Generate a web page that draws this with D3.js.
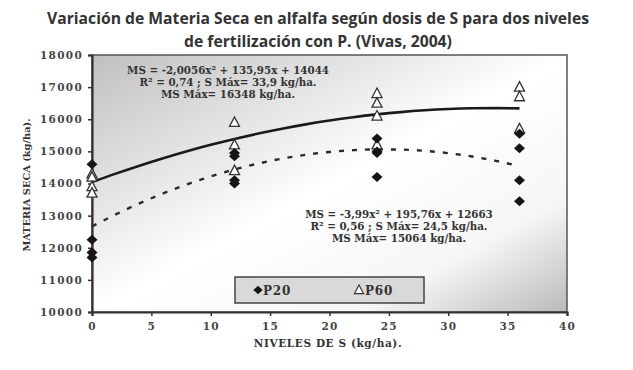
<!DOCTYPE html>
<html><head><meta charset="utf-8">
<script src="https://cdn.jsdelivr.net/npm/d3@7"></script>
<style>body{margin:0;background:#fff}svg{display:block}</style>
</head><body>
<svg id="c" width="633" height="370"></svg>
<script>
const titleLines = ["Variación de Materia Seca en alfalfa según dosis de S para dos niveles", "de fertilización con P. (Vivas, 2004)"];
const xTicks = [0,5,10,15,20,25,30,35,40];
const yTicks = [10000,11000,12000,13000,14000,15000,16000,17000,18000];
const p20X = [0,0,0,0,12,12,12,12,24,24,24,24,36,36,36,36];
const p20Y = [14600,12250,11850,11700,14950,14850,14100,14000,15400,15000,14950,14200,15550,15100,14100,13450];
const p60X = [0,0,0,0,12,12,12,24,24,24,24,36,36,36];
const p60Y = [14300,14200,13900,13700,15900,15200,14400,16800,16500,16100,15200,17000,16700,15700];
const p60Coef = [-2.0056, 135.95, 14044];
const p20Coef = [-3.99, 195.76, 12663];
const trendX = [0,2,4,6,8,10,12,14,16,18,20,22,24,26,28,30,32,34,36];
const eq60 = ["MS = -2,0056x² + 135,95x + 14044", "R² = 0,74 ; S Máx= 33,9 kg/ha.", "MS Máx= 16348 kg/ha."];
const eq20 = ["MS = -3,99x² + 195,76x + 12663", "R² = 0,56 ; S Máx= 24,5 kg/ha.", "MS Máx= 15064 kg/ha."];
const legendLabels = ["P20", "P60"];

const svg = d3.select("#c");
const L = 92, R = 567, T = 55, B = 312;
const x = d3.scaleLinear().domain([0,40]).range([L,R]);
const y = d3.scaleLinear().domain([10000,18000]).range([B,T]);
const serif = "'DejaVu Serif', serif";

// title
svg.append("g").selectAll("text").data(titleLines).join("text")
  .attr("x", 318).attr("y", (d,i)=>24+i*23)
  .attr("text-anchor","middle").attr("font-family","'Open Sans', sans-serif")
  .attr("font-weight","bold").attr("font-size",15.7).attr("fill","#333").text(d=>d);

// background gradient
const defs = svg.append("defs");
const g1 = defs.append("linearGradient").attr("id","bg").attr("x1","0").attr("y1","0").attr("x2","1").attr("y2","1");
g1.append("stop").attr("offset","0").attr("stop-color","#c0c0c0");
g1.append("stop").attr("offset","0.35").attr("stop-color","#ececec");
g1.append("stop").attr("offset","0.5").attr("stop-color","#ffffff");
g1.append("stop").attr("offset","0.78").attr("stop-color","#f6f6f6");
g1.append("stop").attr("offset","1").attr("stop-color","#bababa");
svg.append("rect").attr("x",L).attr("y",T).attr("width",R-L).attr("height",B-T)
  .attr("fill","url(#bg)").attr("stroke","#555").attr("stroke-width",1.5);

// axes
const yAxis = svg.append("g").attr("transform",`translate(${L},0)`)
  .call(d3.axisLeft(y).tickValues(yTicks).tickSize(4).tickPadding(5).tickFormat(d3.format("d")));
const xAxis = svg.append("g").attr("transform",`translate(0,${B})`)
  .call(d3.axisBottom(x).tickValues(xTicks).tickSize(4).tickPadding(7));
[yAxis,xAxis].forEach(a=>{
  a.select(".domain").attr("stroke","#333").attr("stroke-width",2.2);
  a.selectAll(".tick line").attr("stroke","#333").attr("stroke-width",1.5);
  a.selectAll("text").attr("font-family",serif).attr("font-weight","bold").attr("font-size",10.5)
    .attr("letter-spacing",1.3).attr("fill","#444");
});

svg.append("text").attr("x",328).attr("y",347).attr("text-anchor","middle")
  .attr("font-family",serif).attr("font-weight","bold").attr("font-size",10.5).attr("letter-spacing",0.6).attr("fill","#333")
  .text("NIVELES DE S (kg/ha).");
svg.append("text").attr("transform","translate(30,185) rotate(-90)").attr("text-anchor","middle")
  .attr("font-family",serif).attr("font-weight","bold").attr("font-size",9.8).attr("fill","#333")
  .text("MATERIA SECA (kg/ha).");

// trend lines
const poly = c => v => c[0]*v*v + c[1]*v + c[2];
const line = d3.line().x(d=>x(d[0])).y(d=>y(d[1])).curve(d3.curveMonotoneX);
svg.append("path").datum(trendX.map(v=>[v,poly(p60Coef)(v)])).attr("d",line)
  .attr("fill","none").attr("stroke","#1a1a1a").attr("stroke-width",2.6);
svg.append("path").datum(trendX.map(v=>[v,poly(p20Coef)(v)])).attr("d",line)
  .attr("fill","none").attr("stroke","#2a2a2a").attr("stroke-width",2.4).attr("stroke-dasharray","5,8");

// points
const diamond = "M0,-5L5.5,0L0,5L-5.5,0Z";
const tri = "M0,-5.5L5,4L-5,4Z";
svg.append("g").selectAll("path").data(p60X.map((v,i)=>[v,p60Y[i]])).join("path")
  .attr("d",tri).attr("transform",d=>`translate(${x(d[0])},${y(d[1])})`)
  .attr("fill","#fff").attr("stroke","#333").attr("stroke-width",1.3);
svg.append("g").selectAll("path").data(p20X.map((v,i)=>[v,p20Y[i]])).join("path")
  .attr("d",diamond).attr("transform",d=>`translate(${x(d[0])},${y(d[1])})`)
  .attr("fill","#151515");

// equations
function eq(lines, cx, y0){
  svg.append("g").selectAll("text").data(lines).join("text")
    .attr("x",cx).attr("y",(d,i)=>y0+i*11.8).attr("text-anchor","middle")
    .attr("font-family",serif).attr("font-weight","bold").attr("font-size",10.3).attr("fill","#333").text(d=>d);
}
eq(eq60, 228, 74);
eq(eq20, 399, 218);

// legend
svg.append("rect").attr("x",235).attr("y",277).attr("width",189).attr("height",26)
  .attr("fill","#d9d9d9").attr("stroke","#444").attr("stroke-width",1.5);
svg.append("path").attr("d",diamond).attr("transform","translate(258,290) scale(0.85)").attr("fill","#151515");
svg.append("path").attr("d",tri).attr("transform","translate(359,290) scale(0.9)").attr("fill","#fff").attr("stroke","#333").attr("stroke-width",1.3);
svg.append("g").selectAll("text").data(legendLabels).join("text")
  .attr("x",(d,i)=>i?365:263).attr("y",294.5)
  .attr("font-family",serif).attr("font-weight","bold").attr("font-size",12).attr("letter-spacing",0.8).attr("fill","#333").text(d=>d);
</script>
</body></html>
